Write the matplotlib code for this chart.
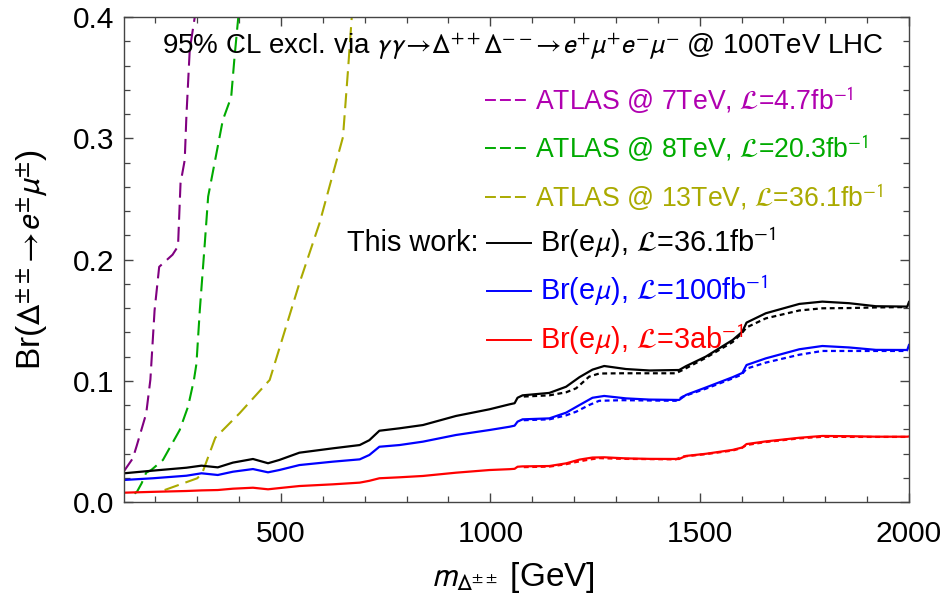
import numpy as np
import matplotlib
matplotlib.use('Agg')
import matplotlib.pyplot as plt
from matplotlib.ticker import MultipleLocator, FormatStrFormatter

plt.rcParams['font.family'] = ['Liberation Sans', 'DejaVu Sans']
plt.rcParams['mathtext.fontset'] = 'stixsans'

# ATLAS limits
m_atlas7 = [124, 146, 155, 178, 188, 198, 209, 241, 254, 260, 270, 274, 282, 294]
br_atlas7 = [0.025, 0.036, 0.046, 0.073, 0.101, 0.158, 0.194, 0.204, 0.211, 0.263, 0.282, 0.318, 0.373, 0.40]

m_atlas8 = [150, 156, 167, 178, 190, 218, 258, 278, 292, 298, 306, 318, 326, 361, 381, 389, 398]
br_atlas8 = [0.007, 0.0085, 0.0154, 0.0242, 0.0264, 0.0347, 0.0594, 0.0787, 0.1007, 0.114, 0.158, 0.2135,
             0.252, 0.315, 0.334, 0.367, 0.40]

m_atlas13 = [222, 300, 312, 343, 401, 473, 544, 592, 648, 660, 669]
br_atlas13 = [0.0099, 0.0196, 0.024, 0.053, 0.0732, 0.1007, 0.1805, 0.23, 0.301, 0.356, 0.40]

# this work, solid curves
m_sol = [125, 194, 274, 310, 349, 385, 433, 469, 496, 544, 624, 688, 711, 735, 783, 839, 918, 998, 1046,
         1058, 1065, 1077, 1141, 1181, 1213, 1244, 1272, 1324, 1380, 1451, 1467, 1515, 1579, 1602, 1612,
         1658, 1738, 1793, 1857, 1921, 1996, 2000]
br_36 = [0.0237, 0.0259, 0.0283, 0.0300, 0.0286, 0.0325, 0.0355, 0.0320, 0.0347, 0.0407, 0.0443, 0.0470,
         0.0510, 0.0588, 0.0608, 0.0635, 0.0710, 0.0765, 0.0806, 0.0815, 0.0860, 0.0880, 0.0900, 0.0951,
         0.1030, 0.1092, 0.1122, 0.1097, 0.1085, 0.1089, 0.1120, 0.1200, 0.1337, 0.1405, 0.1480, 0.1557,
         0.1634, 0.1653, 0.1640, 0.1615, 0.1612, 0.1650]
br_100 = [0.0182, 0.0196, 0.0217, 0.0237, 0.0223, 0.0250, 0.0272, 0.0245, 0.0264, 0.0305, 0.0333, 0.0352,
          0.0388, 0.0456, 0.0470, 0.0498, 0.0553, 0.0594, 0.0621, 0.0630, 0.0663, 0.0682, 0.0690, 0.0737,
          0.0800, 0.0860, 0.0875, 0.0855, 0.0845, 0.0842, 0.0883, 0.0945, 0.1030, 0.1065, 0.1130, 0.1185,
          0.1260, 0.1287, 0.1275, 0.1255, 0.1254, 0.1295]
br_3ab = [0.0077, 0.0084, 0.0091, 0.0096, 0.0099, 0.0110, 0.0118, 0.0105, 0.0115, 0.0132, 0.0146, 0.0160,
          0.0175, 0.0196, 0.0204, 0.0215, 0.0242, 0.0264, 0.0271, 0.0274, 0.0291, 0.0294, 0.0297, 0.0319,
          0.0350, 0.0367, 0.0369, 0.0360, 0.0356, 0.0355, 0.0380, 0.0398, 0.0430, 0.0450, 0.0478, 0.0500,
          0.0530, 0.0545, 0.0543, 0.0539, 0.0539, 0.0541]

# this work, dotted companions
m_dot = [1080, 1141, 1181, 1205, 1236, 1260, 1316, 1443, 1460, 1515, 1579, 1600, 1612, 1658, 1738, 1793,
         1857, 1921, 1996]
br_36_dot = [0.0870, 0.0880, 0.0905, 0.0938, 0.1034, 0.1060, 0.1062, 0.1062, 0.1090, 0.1190, 0.1320, 0.1390,
             0.1440, 0.1515, 0.1580, 0.1598, 0.1600, 0.1605, 0.1608]
br_100_dot = [0.0675, 0.0682, 0.0715, 0.0745, 0.0800, 0.0835, 0.0840, 0.0835, 0.0870, 0.0935, 0.1020, 0.1050,
              0.1100, 0.1150, 0.1215, 0.1246, 0.1246, 0.1246, 0.1246]
br_3ab_dot = [0.0288, 0.0292, 0.0312, 0.0330, 0.0350, 0.0362, 0.0356, 0.0352, 0.0375, 0.0395, 0.0425, 0.0445,
              0.0470, 0.0495, 0.0525, 0.0538, 0.0537, 0.0537, 0.0537]

atlas_labels = [r'ATLAS @ 7TeV, $\mathcal{L}$=4.7fb$^{-1}$',
                r'ATLAS @ 8TeV, $\mathcal{L}$=20.3fb$^{-1}$',
                r'ATLAS @ 13TeV, $\mathcal{L}$=36.1fb$^{-1}$']
work_labels = [r'Br(e$\mu$), $\mathcal{L}$=36.1fb$^{-1}$',
               r'Br(e$\mu$), $\mathcal{L}$=100fb$^{-1}$',
               r'Br(e$\mu$), $\mathcal{L}$=3ab$^{-1}$']

fig = plt.figure(figsize=(9.51, 6.10), dpi=100)
ax = fig.add_axes([0.1304, 0.177, 0.8254, 0.795])

dash = (0, (7.2, 3.4))
ax.plot(m_atlas7, br_atlas7, color='#800080', lw=1.5, ls=dash)
ax.plot(m_atlas8, br_atlas8, color='#00AA00', lw=1.5, ls=dash)
ax.plot(m_atlas13, br_atlas13, color='#AAAA00', lw=1.5, ls=dash)

work_colors = ['black', '#0000FF', '#FF0000']
for br, brd, c in zip([br_36, br_100, br_3ab], [br_36_dot, br_100_dot, br_3ab_dot], work_colors):
    ax.plot(m_dot, brd, color=c, lw=1.6, ls=(0, (2.2, 1.6)))
    ax.plot(m_sol, br, color=c, lw=1.6)

ax.set_xlim(125, 2000)
ax.set_ylim(0, 0.4)
ax.xaxis.set_major_locator(MultipleLocator(500))
ax.xaxis.set_minor_locator(MultipleLocator(100))
ax.yaxis.set_major_locator(MultipleLocator(0.1))
ax.yaxis.set_minor_locator(MultipleLocator(0.02))
ax.yaxis.set_major_formatter(FormatStrFormatter('%.1f'))
ax.tick_params(which='both', direction='in', top=True, right=True, color='#444444')
ax.tick_params(which='major', length=6.5, width=1, labelsize=21.5)
ax.tick_params(which='minor', length=4, width=0.9)
ax.tick_params(axis='x', pad=13)
ax.tick_params(axis='y', pad=7)
for s in ax.spines.values():
    s.set_color('#444444')
    s.set_linewidth(1)

ax.set_xlabel(r'$m_{\Delta^{\pm\pm}}$ [GeV]', fontsize=24, va='center')
ax.xaxis.set_label_coords(0.495, -0.155)
ax.set_ylabel(r'Br($\Delta^{\pm\pm}\!\rightarrow\!e^{\pm}\mu^{\pm}$)', fontsize=24, va='center')
ax.yaxis.set_label_coords(-0.117, 0.5)

ax.text(0.508, 0.938,
        r'95% CL excl. via $\gamma\gamma\!\rightarrow\!\Delta^{++}\Delta^{--}\!\rightarrow\!e^{+}\mu^{+}e^{-}\mu^{-}$ @ 100TeV LHC',
        transform=ax.transAxes, ha='center', va='center', fontsize=20)

# legend, drawn by hand
atlas_text_colors = ['#B000B0', '#00AA00', '#AAAA00']
atlas_rows = [0.829, 0.730, 0.629]
for lab, c, y in zip(atlas_labels, atlas_text_colors, atlas_rows):
    ax.plot([0.460, 0.513], [y, y], transform=ax.transAxes, color=c, lw=1.4, ls=(0, (5.6, 2.1)))
    ax.text(0.524, y, lab, transform=ax.transAxes, color=c, ha='left', va='center', fontsize=19.2)

work_rows = [0.534, 0.435, 0.334]
for lab, c, y in zip(work_labels, work_colors, work_rows):
    ax.plot([0.462, 0.518], [y, y], transform=ax.transAxes, color=c, lw=1.4)
    ax.text(0.530, y, lab, transform=ax.transAxes, color=c, ha='left', va='center', fontsize=20.8)
ax.text(0.451, work_rows[0], 'This work:', transform=ax.transAxes, ha='right', va='center', fontsize=20.8)

fig.savefig('out.png', dpi=100)
